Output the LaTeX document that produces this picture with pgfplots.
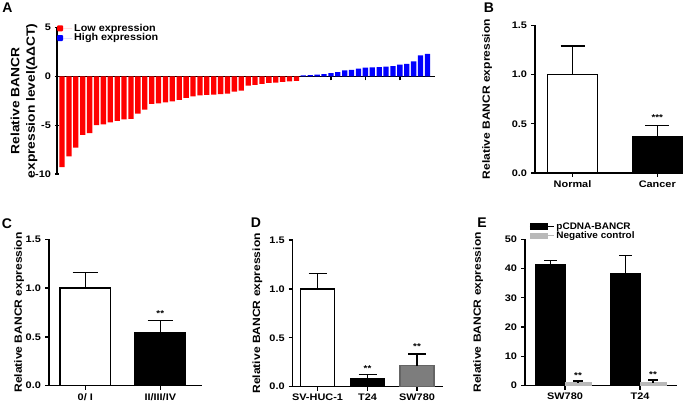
\documentclass[border=0pt]{standalone}
\usepackage{fontspec}
\setmainfont{Liberation Sans}
\usepackage{pgfplots}
\pgfplotsset{compat=1.18}
\definecolor{myred}{RGB}{255,0,0}
\definecolor{myblue}{RGB}{0,0,255}
\definecolor{dgray}{RGB}{125,125,125}
\definecolor{lgray}{RGB}{185,185,185}
\newcommand{\wide}[1]{\scalebox{1.15}[1]{#1}}
\pgfplotsset{
  panel/.style={scale only axis, anchor=south west, axis lines=left,
    axis line style={-, line width=1.3pt}, tick align=outside, major tick length=4pt,
    tick style={line width=1.3pt, black}, clip=false,
    tick label style={font=\fontsize{9.5}{10}\selectfont\bfseries, xscale=1.15},
    label style={font=\fontsize{10.5}{12}\selectfont\bfseries}},
  errs/.style={error bars/.cd, y dir=plus, y explicit,
    error bar style={line width=1.4pt, black},
    error mark options={rotate=90, line width=1.4pt, mark size=#1, black}},
}
\tikzset{stars/.style={font=\fontsize{8.5}{8.5}\selectfont\bfseries, inner sep=0pt, xscale=1.15}}
\begin{document}
\begin{tikzpicture}
\path[use as bounding box] (0pt,0pt) rectangle (685pt,405pt);
% panel letters
\node[font=\fontsize{14}{14}\selectfont\bfseries] at (7.5pt,397pt) {A};
\node[font=\fontsize{14}{14}\selectfont\bfseries] at (489pt,397pt) {B};
\node[font=\fontsize{14}{14}\selectfont\bfseries] at (7pt,181pt) {C};
\node[font=\fontsize{14}{14}\selectfont\bfseries] at (256pt,182pt) {D};
\node[font=\fontsize{14}{14}\selectfont\bfseries] at (482pt,182pt) {E};

% ---------------- A
\begin{axis}[panel, at={(57pt,231pt)}, width=378pt, height=146.3pt,
  xmin=0.27, xmax=55.1, ymin=-10, ymax=5,
  axis x line=middle, axis y line=left,
  axis line style={-, line width=1.3pt},
  ytick={-10,-5,0,5}, yticklabels={-10,-5,0,5},
  xtick={5,10,...,50}, xticklabels={},
  xtick align=center,
  x tick style={line width=1.6pt, yshift=-2pt},
  ylabel={\wide{Relative BANCR}\\\wide{expression level(ΔΔCT)}},
  ylabel style={align=center, at={(axis description cs:-0.087,0.5)}, anchor=center,
    font=\fontsize{12}{15.5}\selectfont\bfseries},
  legend style={draw=none, fill=none, at={(axis description cs:0,1)}, anchor=north west,
    yshift=6pt, inner sep=0pt, row sep=-3pt, font=\fontsize{10}{11}\selectfont\bfseries},
  legend cell align=left,
  legend image code/.code={\fill[#1, draw=none, rounded corners=1pt] (0pt,-3pt) rectangle (6pt,3pt); \path (0pt,0pt) -- (15pt,0pt);},
]
\addplot[ybar, bar width=0.77, bar shift=0pt, fill=myred, draw=none] coordinates {
(1,-9.3) (2,-8.2) (3,-7.3) (4,-6.0) (5,-5.8) (6,-5.0) (7,-4.9) (8,-4.7) (9,-4.55) (10,-4.4)
(11,-4.35) (12,-3.8) (13,-3.4) (14,-2.8) (15,-2.75) (16,-2.65) (17,-2.55) (18,-2.4) (19,-2.2) (20,-2.05)
(21,-1.95) (22,-1.9) (23,-1.85) (24,-1.8) (25,-1.75) (26,-1.55) (27,-1.45) (28,-0.95) (29,-0.85) (30,-0.75)
(31,-0.65) (32,-0.62) (33,-0.55) (34,-0.5) (35,-0.45)};
\addlegendentry{\scalebox{1.08}[1]{Low expression}}
\addplot[ybar, bar width=0.77, bar shift=0pt, fill=myblue, draw=none] coordinates {
(36,0.12) (37,0.15) (38,0.2) (39,0.25) (40,0.35) (41,0.45) (42,0.62) (43,0.68) (44,0.8) (45,0.9)
(46,0.93) (47,0.95) (48,1.0) (49,1.05) (50,1.22) (51,1.3) (52,1.55) (53,2.15) (54,2.32)};
\addlegendentry{\scalebox{1.08}[1]{High expression}}
\end{axis}

% ---------------- B
\begin{axis}[panel, at={(535pt,232pt)}, width=148pt, height=147.7pt,
  xmin=535, xmax=683, ymin=0, ymax=1.5,
  ytick={0,0.5,1,1.5}, yticklabels={0.0,0.5,1.0,1.5},
  xtick={572.5,657.3}, xticklabels={Normal,Cancer},
  ylabel={\wide{Relative BANCR expression}},
  ylabel style={at={(axis description cs:-0.324,0.5)}, anchor=center},
]
\addplot[ybar, bar width=50, bar shift=0pt, fill=white, draw=black, line width=1.3pt, errs=12pt]
  coordinates {(572.5,1.0) +- (0,0.29)};
\addplot[ybar, bar width=50, bar shift=0pt, fill=black, draw=black, line width=1.3pt, errs=12pt]
  coordinates {(657.3,0.37) +- (0,0.11)};
\node[stars] at (axis cs:657.3,0.56) {***};
\end{axis}

% ---------------- C
\begin{axis}[panel, at={(49pt,19.3pt)}, width=152.7pt, height=146.4pt,
  xmin=49, xmax=201.7, ymin=0, ymax=1.5,
  ytick={0,0.5,1,1.5}, yticklabels={0.0,0.5,1.0,1.5},
  xtick={85.3,160.3}, xticklabels={0/ I,II/III/IV},
  ylabel={\wide{Relative BANCR expression}},
  ylabel style={at={(axis description cs:-0.196,0.5)}, anchor=center},
]
\addplot[ybar, bar width=50.7, bar shift=0pt, fill=white, draw=black, line width=1.3pt, errs=12.8pt]
  coordinates {(85.3,1.0) +- (0,0.16)};
\addplot[ybar, bar width=50.7, bar shift=0pt, fill=black, draw=black, line width=1.3pt, errs=12.8pt]
  coordinates {(160.3,0.545) +- (0,0.125)};
\node[stars] at (axis cs:160.3,0.74) {**};
\end{axis}

% ---------------- D
\begin{axis}[panel, at={(292.7pt,18.3pt)}, width=150.3pt, height=146.7pt,
  xmin=292.7, xmax=443, ymin=0, ymax=1.5,
  ytick={0,0.5,1,1.5}, yticklabels={0.0,0.5,1.0,1.5},
  xtick={317.5,367.5,417}, xticklabels={SV-HUC-1,T24,SW780},
  ylabel={\wide{Relative BANCR expression}},
  ylabel style={at={(axis description cs:-0.235,0.5)}, anchor=center},
]
\addplot[ybar, bar width=34, bar shift=0pt, fill=white, draw=black, line width=1.3pt, errs=9pt]
  coordinates {(317.5,1.0) +- (0,0.16)};
\addplot[ybar, bar width=34, bar shift=0pt, fill=black, draw=black, line width=1.3pt, errs=9pt]
  coordinates {(367.5,0.085) +- (0,0.04)};
\addplot[ybar, bar width=34, bar shift=0pt, fill=dgray, draw=dgray!80!black, line width=1.3pt, errs=9pt]
  coordinates {(417,0.215) +- (0,0.12)};
\node[stars] at (axis cs:367.5,0.19) {**};
\node[stars] at (axis cs:417,0.41) {**};
\end{axis}

% ---------------- E
\begin{axis}[panel, at={(525pt,19.5pt)}, width=152pt, height=146.2pt,
  xmin=525, xmax=677, ymin=0, ymax=50,
  ytick={0,10,20,30,40,50}, yticklabels={0,10,20,30,40,50},
  xtick={565,640}, xticklabels={SW780,T24},
  ylabel={\wide{Relative BANCR expression}},
  ylabel style={at={(axis description cs:-0.309,0.5)}, anchor=center},
  legend style={draw=none, fill=none, at={(axis description cs:0.026,1)}, anchor=north west,
    yshift=19pt, inner sep=0pt, row sep=-3pt, font=\fontsize{9.5}{10}\selectfont\bfseries},
  legend cell align=left,
  legend image code/.code={\fill[#1, draw=none] (0pt,-3.3pt) rectangle (18pt,3.3pt); \path (0pt,0pt) -- (24pt,0pt);},
]
\addplot[ybar, bar width=29, bar shift=0pt, fill=black, draw=black, line width=1.3pt, errs=6.5pt]
  coordinates {(550.5,41.4) +- (0,1.4) (625.5,38.2) +- (0,6.3)};
\addlegendentry{\scalebox{1.05}[1]{pCDNA-BANCR}}
\addplot[ybar, bar width=25.7, bar shift=0pt, fill=lgray, draw=lgray, line width=1.3pt, errs=5pt]
  coordinates {(578,1.0) +- (0,0.5) (653,1.0) +- (0,0.9)};
\addlegendentry{\scalebox{1.05}[1]{Negative control}}
\node[stars] at (axis cs:578,3.4) {**};
\node[stars] at (axis cs:653,3.6) {**};
\end{axis}
\end{tikzpicture}
\end{document}
